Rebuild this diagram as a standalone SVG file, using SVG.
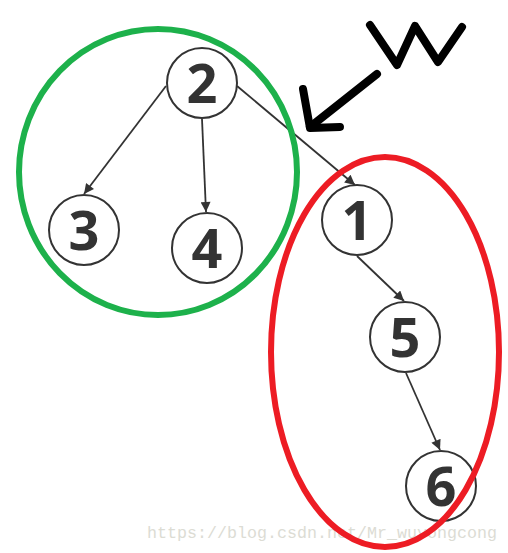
<svg xmlns="http://www.w3.org/2000/svg" width="508" height="553" viewBox="0 0 508 553">
<style>
.node circle{fill:#fff;stroke:#333;stroke-width:2}
.node text{font-family:"Open Sans","Liberation Sans",sans-serif;font-weight:700;font-size:54px;fill:#333;text-anchor:middle}
.edge{stroke:#333;stroke-width:1.8;fill:none;marker-end:url(#ah)}
.ink{stroke:#000;stroke-width:8;fill:none;stroke-linecap:round;stroke-linejoin:round}
</style>
<defs>
<marker id="ah" viewBox="0 0 10 10" refX="10" refY="5" markerWidth="11" markerHeight="10" markerUnits="userSpaceOnUse" orient="auto">
<path d="M0,0 L10,5 L0,10 z" fill="#333"/>
</marker>
</defs>
<rect width="508" height="553" fill="#fff"/>
<text x="147" y="538" font-family="Liberation Mono,monospace" font-size="16" fill="#dcdcd4" textLength="350" lengthAdjust="spacingAndGlyphs">https://blog.csdn.net/Mr_wuyongcong</text>
<g id="connectors">
<line class="edge" x1="166" y1="86" x2="84" y2="194"/>
<line class="edge" x1="202" y1="119" x2="206" y2="212"/>
<line class="edge" x1="237" y1="86" x2="355" y2="185"/>
<line class="edge" x1="357" y1="256" x2="404" y2="301"/>
<line class="edge" x1="406" y1="373" x2="440" y2="450"/>
</g>
<g id="n2" class="node"><circle cx="202" cy="83" r="35"/><text x="202" y="103">2</text></g>
<g id="n3" class="node"><circle cx="84" cy="230" r="35"/><text x="84" y="250">3</text></g>
<g id="n4" class="node"><circle cx="207" cy="248" r="35"/><text x="207" y="268">4</text></g>
<g id="n1" class="node"><circle cx="357" cy="220" r="35"/><text x="357" y="240">1</text></g>
<g id="n5" class="node"><circle cx="405" cy="337" r="35"/><text x="405" y="357">5</text></g>
<g id="n6" class="node"><circle cx="441" cy="486" r="35"/><text x="441" y="506">6</text></g>
<ellipse id="green" cx="158" cy="172" rx="139" ry="143" fill="none" stroke="#1db14b" stroke-width="6"/>
<ellipse id="red" cx="385" cy="352" rx="114" ry="195" fill="none" stroke="#ed1c24" stroke-width="6"/>
<g id="w">
<polyline class="ink" points="370,25 397,65 415,26 438,62 462,27"/>
<line class="ink" x1="377" y1="74" x2="310" y2="127"/>
<polyline class="ink" points="303,89 310,128 340,127"/>
</g>
</svg>
